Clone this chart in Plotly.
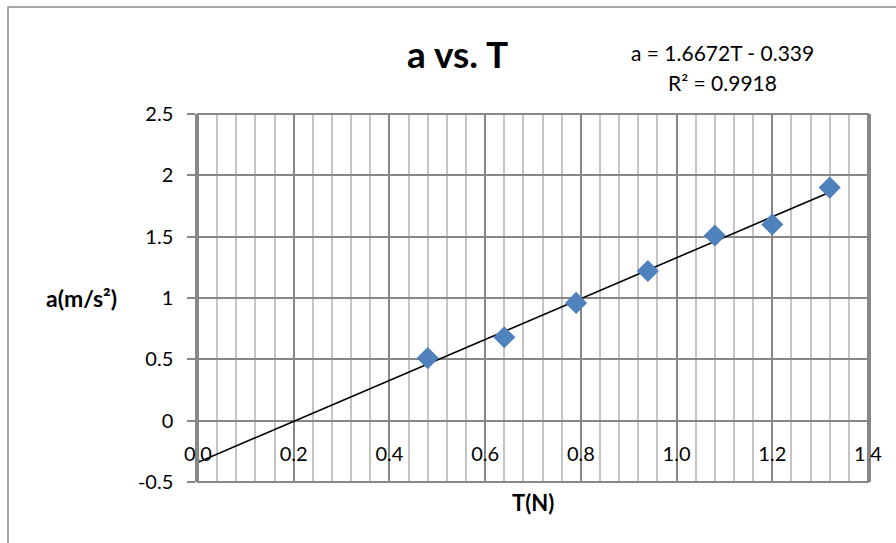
import plotly.graph_objects as go

# Data
T_values = [0.48, 0.64, 0.79, 0.94, 1.08, 1.20, 1.32]
a_values = [0.51, 0.68, 0.96, 1.22, 1.51, 1.60, 1.90]
slope = 1.6672
intercept = -0.339
r_squared = 0.9918
x_ticks = [0.0, 0.2, 0.4, 0.6, 0.8, 1.0, 1.2, 1.4]
x_tick_labels = ["0.0", "0.2", "0.4", "0.6", "0.8", "1.0", "1.2", "1.4"]
y_ticks = [-0.5, 0, 0.5, 1, 1.5, 2, 2.5]
y_tick_labels = ["-0.5", "0", "0.5", "1", "1.5", "2", "2.5"]

FONT = "Lato"
DARK = "#878787"
LIGHT = "#c4c4c4"

L, R, TOP, BOT = 198, 868, 114, 482
W, H = 896, 543
PW, PH = R - L, BOT - TOP

trend_x = [0.0, max(T_values)]
trend_y = [slope * x + intercept for x in trend_x]

fig = go.Figure()
fig.add_trace(go.Scatter(x=trend_x, y=trend_y, mode="lines",
                         line=dict(color="black", width=1.6),
                         showlegend=False, hoverinfo="skip"))
fig.add_trace(go.Scatter(x=T_values, y=a_values, mode="markers",
                         marker=dict(symbol="diamond", size=17, color="#4F81BD",
                                     line=dict(width=0)),
                         showlegend=False))

fig.update_layout(
    width=W, height=H,
    margin=dict(l=L, r=W - R, t=TOP, b=H - BOT),
    paper_bgcolor="white", plot_bgcolor="white",
    font=dict(family=FONT, size=20, color="black"),
    xaxis=dict(range=[0, 1.4], showgrid=True, gridcolor=DARK, gridwidth=1.8,
               tickvals=x_ticks, ticktext=x_tick_labels, zeroline=False,
               minor=dict(dtick=0.04, tick0=0, showgrid=True, gridcolor=LIGHT, gridwidth=1.8),
               anchor="free", position=1/6, side="bottom",
               ticks="", ticklabelstandoff=19, showline=False,
               tickfont=dict(family=FONT, size=20, color="black")),
    yaxis=dict(range=[-0.5, 2.5], tickvals=y_ticks, ticktext=y_tick_labels,
               showgrid=True, gridcolor=DARK, gridwidth=1.8,
               zeroline=True, zerolinecolor=DARK, zerolinewidth=2,
               showline=True, linecolor=DARK, linewidth=2.5, mirror=True,
               ticks="outside", ticklen=8, tickcolor=DARK, tickwidth=2,
               ticklabelstandoff=10,
               tickfont=dict(family=FONT, size=20, color="black")),
)

# plot-area frame
fig.add_shape(type="rect", xref="paper", yref="paper", x0=0, x1=1, y0=0, y1=1,
              line=dict(color=DARK, width=2))
# chart-area border (extends past right/bottom edges)
fig.add_shape(type="rect", xref="paper", yref="paper",
              x0=(8 - L) / PW, x1=(W + 20 - L) / PW,
              y0=(BOT - (H + 20)) / PH, y1=(BOT - 7) / PH,
              line=dict(color="#8a8a8a", width=1.5), layer="below")

annotations = [
    dict(text="<b>a vs. T</b>", x=457, y=54, font=dict(size=37)),
    dict(text=f"a = {slope}T - {abs(intercept)}", x=722, y=52, font=dict(size=21)),
    dict(text=f"R² = {r_squared}", x=722, y=83, font=dict(size=21)),
    dict(text="<b>a(m/s²)</b>", x=81, y=298, font=dict(size=23)),
    dict(text="<b>T(N)</b>", x=533, y=502, font=dict(size=22)),
]
for ann in annotations:
    fig.add_annotation(text=ann["text"], xref="paper", yref="paper",
                       x=(ann["x"] - L) / PW, y=(BOT - ann["y"]) / PH,
                       xanchor="center", yanchor="middle", showarrow=False,
                       font=dict(family=FONT, color="black", **ann["font"]))

fig.write_html("out.html", config={"displayModeBar": False},
               post_script="document.body.style.margin='0';document.body.style.overflow='hidden';")
